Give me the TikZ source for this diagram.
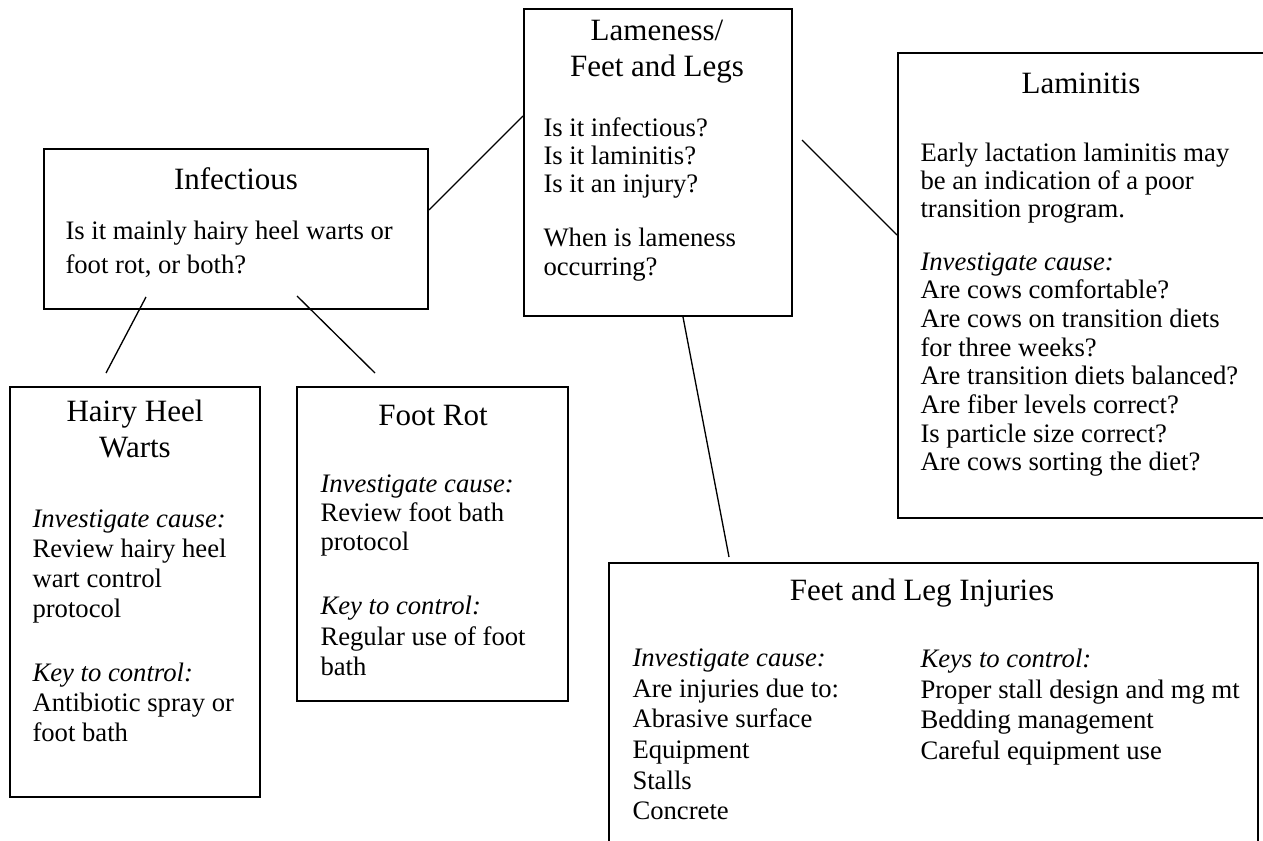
\documentclass[tikz,border=0pt]{standalone}
\usepackage{fontspec}
\setmainfont{Liberation Serif}
\usetikzlibrary{fit}

\tikzset{every picture/.style={line width=0.75pt}}
\tikzset{
  box/.style={draw, line width=1.5pt, inner sep=0pt},
  link/.style={line width=1pt},
  ttl/.style={font=\fontsize{23.25}{27}\selectfont, align=center, anchor=north, inner sep=0pt, execute at begin node=\strut},
  txt/.style={font=\fontsize{20}{#1}\selectfont, align=left, anchor=north west, inner sep=0pt, execute at begin node=\strut},
  txt/.default=21.5pt
}

\begin{document}
\begin{tikzpicture}[x=0.75pt,y=0.75pt,yscale=-1,xscale=1]
\useasboundingbox (0,0) rectangle (1263,841);
\clip (0,0) rectangle (1263,841);

%Shape: Rectangle [lame]
\node[box, fit={(524,9) (792,316)}] (lame) {};
%Shape: Rectangle [infect]
\node[box, fit={(44,149) (428,309)}] (infect) {};
%Shape: Rectangle [lamin]
\node[box, fit={(898,53) (1266,518)}] (lamin) {};
%Shape: Rectangle [hairy]
\node[box, fit={(10,387) (260,797)}] (hairy) {};
%Shape: Rectangle [footrot]
\node[box, fit={(297,387) (568,701)}] (footrot) {};
%Shape: Rectangle [injury]
\node[box, fit={(609,563) (1258,848)}] (injury) {};

%Straight Lines
\coordinate (lamP) at (802,140);
\coordinate (injP) at (729,557);
\coordinate (hairyP) at (146,297);
\coordinate (hairyQ) at (106,373);
\coordinate (footP) at (297,296);
\coordinate (footQ) at (375,373);
\draw[link] (infect.east |- 0,210) -- (lame.west |- 0,116);
\draw[link] (lamP) -- (lamin.west |- 0,235);
\draw[link] (lame.south -| 683,0) -- (injP);
\draw[link] (hairyP) -- (hairyQ);
\draw[link] (footP) -- (footQ);

% Text Node
\node[ttl] (lameT) at (657,19.8) {Lameness/\\Feet and Legs};
\node[txt=21pt] (lameQ) at (543,117.4) {Is it infectious?\\Is it laminitis?\\Is it an injury?};
\node[txt=21.5pt] (lameW) at (543,227.9) {When is lameness\\occurring?};
% Text Node
\node[ttl] (infectT) at (236,163.8) {Infectious};
\node[txt=25.5pt] (infectQ) at (65,220.2) {Is it mainly hairy heel warts or\\foot rot, or both?};
% Text Node
\node[ttl] (laminT) at (1081,67.8) {Laminitis};
\node[txt=21pt] (laminA) at (920,142.4) {Early lactation laminitis may\\be an indication of a poor\\transition program.};
\node[txt=21.5pt] (laminB) at (920,251.9) {\textit{Investigate cause:}\\Are cows comfortable?\\Are cows on transition diets\\for three weeks?\\Are transition diets balanced?\\Are fiber levels correct?\\Is particle size correct?\\Are cows sorting the diet?};
% Text Node
\node[ttl] (hairyT) at (135,399.8) {Hairy Heel\\Warts};
\node[txt=22.5pt] (hairyA) at (32,509) {\textit{Investigate cause:}\\Review hairy heel\\wart control\\protocol};
\node[txt=22.5pt] (hairyB) at (32,662) {\textit{Key to control:}\\Antibiotic spray or\\foot bath};
% Text Node
\node[ttl] (footT) at (433,399.8) {Foot Rot};
\node[txt=21.75pt] (footA) at (320,474.7) {\textit{Investigate cause:}\\Review foot bath\\protocol};
\node[txt=22.9pt] (footB) at (320,595.6) {\textit{Key to control:}\\Regular use of foot\\bath};
% Text Node
\node[ttl] (injT) at (922,574.8) {Feet and Leg Injuries};
\node[txt=23pt] (injA) at (632,648.5) {\textit{Investigate cause:}\\Are injuries due to:\\Abrasive surface\\Equipment\\Stalls\\Concrete};
\node[txt=23pt] (injB) at (920,648.5) {\textit{Keys to control:}\\Proper stall design and mg mt\\Bedding management\\Careful equipment use};

\end{tikzpicture}
\end{document}
